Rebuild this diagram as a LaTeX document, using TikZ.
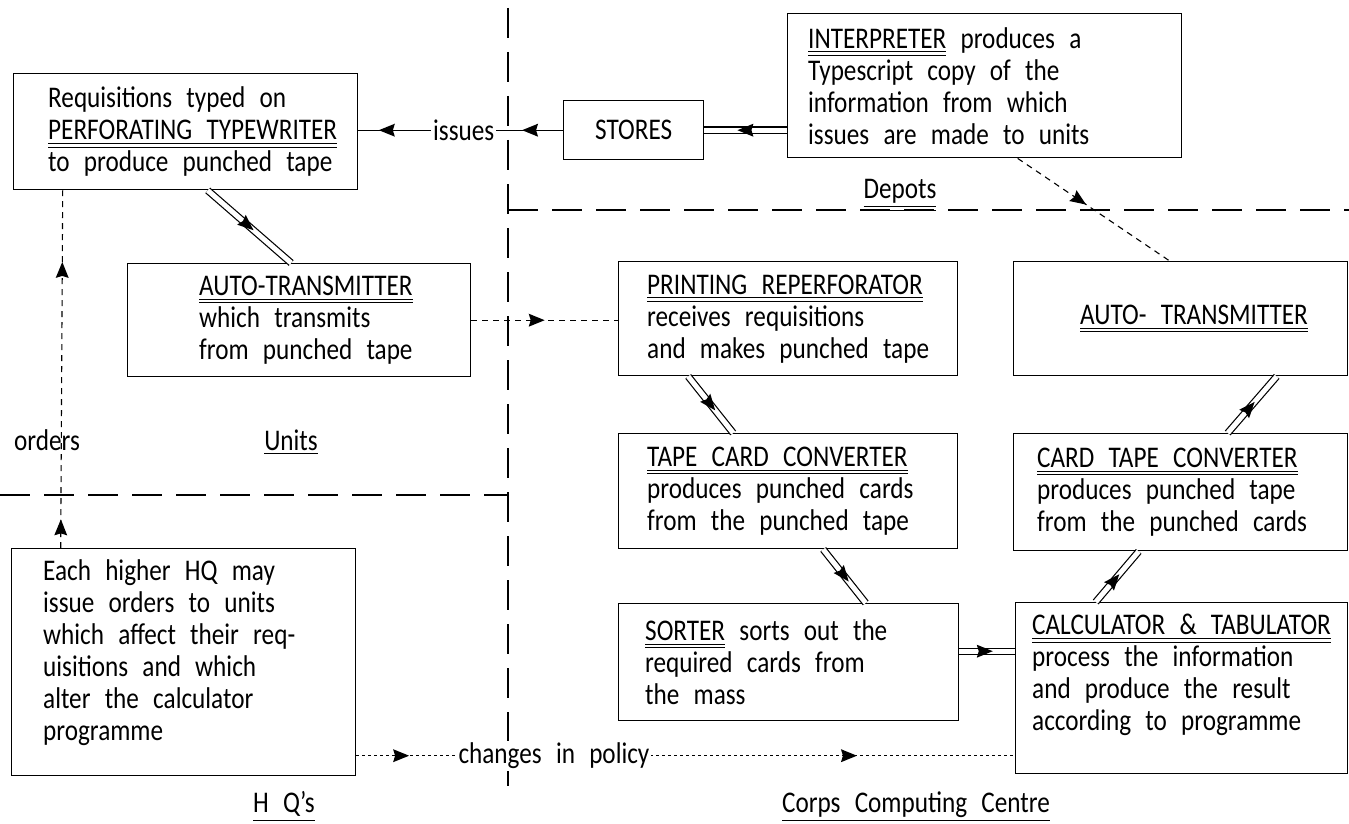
\documentclass[tikz,border=0pt]{standalone}
\usepackage{fontspec}
\setmainfont{Carlito}[FakeStretch=0.84, WordSpace=2.5]
\usepackage{tikz}
\usetikzlibrary{positioning, decorations.markings}
\newcommand\boxLine{1.4pt}
\newcommand\linkLine{1.2pt}
\newcommand\dblGap{5pt}
\newcommand\tipLen{16pt}
\newcommand\tipHalf{6.5pt}
\newcommand\letterFont{\fontsize{30}{32}\selectfont}
\newsavebox\ulBox
\newcommand{\dblUnder}[1]{\sbox\ulBox{#1}\leavevmode
    \rlap{\raisebox{\dimexpr-\dp\ulBox-4pt\relax}{\rule{\wd\ulBox}{0.8pt}}}%
    \rlap{\raisebox{\dimexpr-\dp\ulBox-7.5pt\relax}{\rule{\wd\ulBox}{0.8pt}}}%
    \usebox\ulBox}
\newcommand{\oneUnder}[1]{\sbox\ulBox{#1}\leavevmode
    \rlap{\raisebox{\dimexpr-\dp\ulBox-4pt\relax}{\rule{\wd\ulBox}{1.2pt}}}%
    \usebox\ulBox}
\tikzset{
    panel/.style 2 args={draw, line width=\boxLine, minimum width=#1, minimum height=#2, inner sep=0pt, anchor=north west},
    lettering/.style={font=\letterFont, align=left, inner sep=0pt},
    tag/.style={font=\letterFont, inner sep=2pt},
    region/.style={line width=\boxLine, dash pattern=on 30pt off 14pt},
    dbl/.style={double, double distance=\dblGap, line width=\linkLine},
    link/.style={line width=\linkLine},
    signal/.style={line width=1.1pt, dash pattern=on 6pt off 5pt},
    policy/.style={line width=1.1pt, dash pattern=on 3pt off 3pt},
    midtip/.style={postaction={decorate, decoration={markings,
        mark=at position #1 with {\fill (0,0) -- (-\tipLen,\tipHalf) -- (-14pt,0) -- (-\tipLen,-\tipHalf) -- cycle;}}}}
}

\begin{document}
\begin{tikzpicture}[x=1pt, y=-1pt]
        \useasboundingbox (0,0) rectangle (1349,824);

        % region borders
        \draw[region] (508,8) -- (508,797);
        \draw[region] (508,210) -- (1349,210);
        \draw[region] (0,495) -- (508,495);

        % units side
        \node[panel={344pt}{116pt}] (req) at (13,73) {};
        \node[lettering, right=35pt of req.west] (reqText) {Requisitions typed on\\\dblUnder{PERFORATING TYPEWRITER}\\to produce punched tape};

        \node[panel={343pt}{113pt}] (autoL) at (127,263) {};
        \node[lettering, right=72pt of autoL.west] (autoLText) {\dblUnder{AUTO-TRANSMITTER}\\which transmits\\from punched tape};

        \node[panel={344pt}{227pt}] (hq) at (11,548) {};
        \node[lettering, right=32pt of hq.west, yshift=10pt] (hqText) {Each higher HQ may\\issue orders to units\\which affect their req-\\uisitions and which\\alter the calculator\\programme};

        % depots
        \node[panel={140pt}{59pt}] (stores) at (563,100) {};
        \node[tag] (storesText) at (stores.center) {STORES};

        \node[panel={394pt}{144pt}] (interp) at (787,13) {};
        \node[lettering, right=21pt of interp.west] (interpText) {\dblUnder{INTERPRETER} produces a\\Typescript copy of the\\information from which\\issues are made to units};

        % computing centre
        \node[panel={339pt}{114pt}] (print) at (618,261) {};
        \node[lettering, right=29pt of print.west] (printText) {\dblUnder{PRINTING REPERFORATOR}\\receives requisitions\\and makes punched tape};

        \node[panel={334pt}{114pt}] (autoR) at (1013,261) {};
        \node[lettering, right=67pt of autoR.west] (autoRText) {\dblUnder{AUTO- TRANSMITTER}};

        \node[panel={339pt}{115pt}] (tape) at (618,433) {};
        \node[lettering, right=29pt of tape.west] (tapeText) {\dblUnder{TAPE CARD CONVERTER}\\produces punched cards\\from the punched tape};

        \node[panel={334pt}{117pt}] (card) at (1013,433) {};
        \node[lettering, right=24pt of card.west] (cardText) {\dblUnder{CARD TAPE CONVERTER}\\produces punched tape\\from the punched cards};

        \node[panel={340pt}{117pt}] (sorter) at (618,603) {};
        \node[lettering, right=27pt of sorter.west] (sorterText) {\dblUnder{SORTER} sorts out the\\required cards from\\the mass};

        \node[panel={332pt}{171pt}] (calc) at (1015,602) {};
        \node[lettering, right=17pt of calc.west, yshift=13pt] (calcText) {\dblUnder{CALCULATOR \& TABULATOR}\\process the information\\and produce the result\\according to programme};

        % area labels
        \node[tag] (depotsLabel) at (900,195) {\dblUnder{Depots}};
        \node[tag] (unitsLabel) at (291,442) {\oneUnder{Units}};
        \node[tag] (ordersLabel) at (47,440) {orders};
        \node[tag] (hqLabel) at (284,808) {\dblUnder{H Q's}};
        \node[tag] (centreLabel) at (916,808) {\dblUnder{Corps Computing Centre}};

        % connectors
        \draw[link, midtip=0.2, midtip=0.9] (stores.west) -- (stores.west -| req.east)
            node[tag, fill=white, pos=0.485] (issuesLabel) {issues};
        \draw[dbl, midtip=0.6] (interp.west |- stores.east) -- (stores.east);
        \draw[dbl, midtip=0.55] ([xshift=22pt]req.south) -- ([xshift=-8pt]autoL.north);
        \draw[signal, midtip=0.5] (autoL.east) -- (autoL.east -| print.west);
        \draw[dbl, midtip=0.6] ([xshift=-100pt]print.south) -- ([xshift=-55pt]tape.north);
        \draw[dbl, midtip=0.6] ([xshift=35pt]tape.south) -- ([xshift=77pt]sorter.north);
        \draw[dbl, midtip=0.6] ([yshift=11pt]sorter.east) -- ([yshift=11pt]sorter.east -| calc.west);
        \draw[dbl, midtip=0.55] ([xshift=-86pt]calc.north) -- ([xshift=-42pt]card.south);
        \draw[dbl, midtip=0.55] ([xshift=47pt]card.north) -- ([xshift=96pt]autoR.south);
        \draw[signal, midtip=0.45] ([xshift=33pt]interp.south) -- ([xshift=-11pt]autoR.north);
        \draw[signal, midtip=0.08, midtip=0.8] ([xshift=-123pt]hq.north) -- ([xshift=-123pt]req.south);
        \draw[policy, midtip=0.08, midtip=0.76] ([yshift=-93.5pt]hq.east) -- ([yshift=-93.5pt]hq.east -| calc.west)
            node[tag, fill=white, pos=0.3] (policyLabel) {changes in policy};

\end{tikzpicture}
\end{document}
